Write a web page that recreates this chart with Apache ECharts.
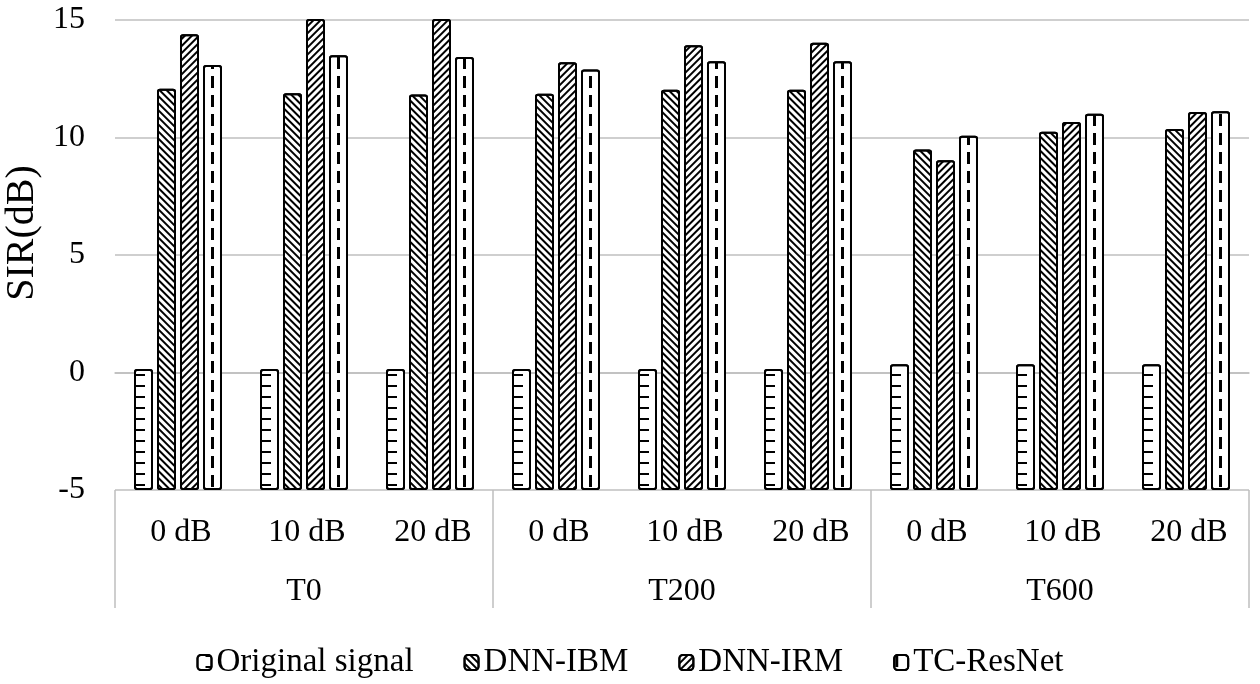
<!DOCTYPE html>
<html>
<head>
<meta charset="utf-8">
<script src="https://cdn.jsdelivr.net/npm/echarts@6/dist/echarts.min.js"></script>
<style>
html,body{margin:0;padding:0;background:#fff;}
#chart{width:1260px;height:684px;}
</style>
</head>
<body>
<div id="chart"></div>
<script>
const categories = ['0 dB','10 dB','20 dB','0 dB','10 dB','20 dB','0 dB','10 dB','20 dB'];
const groups = ['T0','T200','T600'];
const seriesNames = ['Original signal','DNN-IBM','DNN-IRM','TC-ResNet'];
const originalSignal = [0.15, 0.15, 0.15, 0.15, 0.15, 0.15, 0.35, 0.35, 0.35];
const dnnIBM = [12.07, 11.88, 11.83, 11.86, 12.03, 12.03, 9.49, 10.24, 10.36];
const dnnIRM = [14.39, 15.10, 15.17, 13.20, 13.93, 14.03, 9.03, 10.66, 11.08];
const tcResNet = [13.08, 13.50, 13.43, 12.89, 13.24, 13.24, 10.07, 11.01, 11.12];
const yTicks = [-5, 0, 5, 10, 15];

const FONT = '"Liberation Serif", "Times New Roman", serif';
const chart = echarts.init(document.getElementById('chart'));

const decals = [
  {symbol:'rect', color:'#000', dashArrayX:[0,8,11,2], dashArrayY:[2,9], rotation:0},
  {symbol:'rect', color:'#000', dashArrayX:[1,0], dashArrayY:[2,3], rotation:Math.PI/4},
  {symbol:'rect', color:'#000', dashArrayX:[1,0], dashArrayY:[2,3], rotation:-Math.PI/4},
  {symbol:'rect', color:'#000', dashArrayX:[0,1,3,17], dashArrayY:[12,7], rotation:0}
];
const dataSets = [originalSignal, dnnIBM, dnnIRM, tcResNet];

const series = seriesNames.map((name, i) => ({
  name: name,
  type: 'bar',
  data: dataSets[i],
  barWidth: 19,
  barGap: '21.05%',
  itemStyle: {
    color: '#ffffff',
    borderColor: '#000',
    borderWidth: 2,
    borderRadius: 2,
    decal: decals[i]
  }
}));

chart.setOption({
  animation: false,
  aria: {enabled: false, decal: {show: true}},
  grid: {left: 115, right: 11, top: 20, bottom: 194, containLabel: false, outerBoundsMode: 'none'},
  legend: {
    data: seriesNames,
    top: 641,
    left: 'center',
    itemWidth: 14,
    itemHeight: 15,
    itemGap: 50,
    textStyle: {fontFamily: FONT, fontSize: 33, color: '#000'}
  },
  xAxis: [
    {
      type: 'category',
      data: categories,
      axisLine: {show: true, lineStyle: {color: '#bfbfbf', width: 1.5}},
      axisTick: {show: false},
      axisLabel: {fontFamily: FONT, fontSize: 32, color: '#000', margin: 27, interval: 0, padding: [0, 0, 0, 6]}
    },
    {
      type: 'category',
      data: groups,
      position: 'bottom',
      axisLine: {show: false},
      axisTick: {show: true, length: 118, lineStyle: {color: '#bfbfbf', width: 1.5}},
      axisLabel: {fontFamily: FONT, fontSize: 32, color: '#000', margin: 86, interval: 0},
      splitLine: {show: false}
    }
  ],
  yAxis: {
    type: 'value',
    min: yTicks[0],
    max: yTicks[yTicks.length - 1],
    interval: 5,
    startValue: yTicks[0],
    name: 'SIR(dB)',
    nameLocation: 'middle',
    nameGap: 72,
    nameTextStyle: {fontFamily: FONT, fontSize: 40, color: '#000', padding: [0, 0, 0, 44]},
    axisLine: {show: false},
    axisTick: {show: false},
    axisLabel: {fontFamily: FONT, fontSize: 32, color: '#000', margin: 30},
    splitLine: {lineStyle: {color: '#bfbfbf', width: 1.5}}
  },
  series: series
});
</script>
</body>
</html>
